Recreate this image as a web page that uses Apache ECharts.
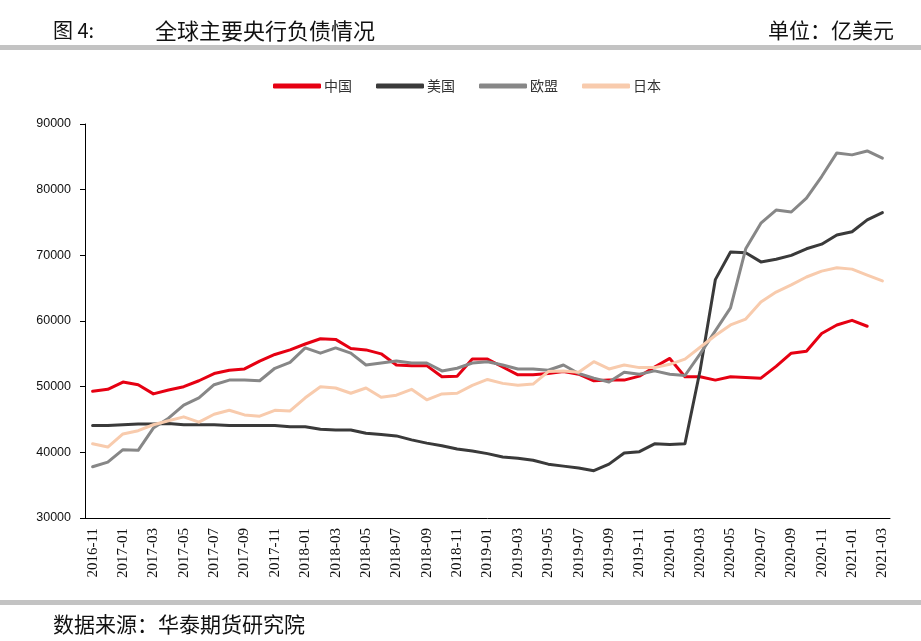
<!DOCTYPE html>
<html>
<head>
<meta charset="utf-8">
<title>全球主要央行负债情况</title>
<script src="https://cdn.jsdelivr.net/npm/echarts@6/dist/echarts.min.js"></script>
<style>
  html, body { margin: 0; padding: 0; background: #fff; }
  #chart { width: 921px; height: 641px; }
</style>
</head>
<body>
<div id="chart"></div>
<script>
// 月份 2016-11 ~ 2021-03
const months = [
  '2016-11', '2016-12',
  '2017-01', '2017-02', '2017-03', '2017-04', '2017-05', '2017-06',
  '2017-07', '2017-08', '2017-09', '2017-10', '2017-11', '2017-12',
  '2018-01', '2018-02', '2018-03', '2018-04', '2018-05', '2018-06',
  '2018-07', '2018-08', '2018-09', '2018-10', '2018-11', '2018-12',
  '2019-01', '2019-02', '2019-03', '2019-04', '2019-05', '2019-06',
  '2019-07', '2019-08', '2019-09', '2019-10', '2019-11', '2019-12',
  '2020-01', '2020-02', '2020-03', '2020-04', '2020-05', '2020-06',
  '2020-07', '2020-08', '2020-09', '2020-10', '2020-11', '2020-12',
  '2021-01', '2021-02', '2021-03',
]

const china = [
  49300, 49600, 50700, 50300, 48900, 49500, 50000, 50900, 52000, 52500,
  52700, 53900, 54900, 55600, 56500, 57300, 57200, 55800, 55600, 55000,
  53300, 53200, 53200, 51500, 51600, 54200, 54200, 53000, 51800, 51800,
  52000, 52300, 51900, 50900, 51000, 51000, 51600, 53000, 54300, 51500,
  51500, 51000, 51500, 51400, 51300, 53100, 55100, 55400, 58100, 59400,
  60100, 59200, null,
]

const usa = [
  44100, 44100, 44200, 44300, 44300, 44400, 44200, 44200, 44200, 44100,
  44100, 44100, 44100, 43900, 43900, 43500, 43400, 43400, 42900, 42700,
  42500, 41900, 41400, 41000, 40500, 40200, 39800, 39300, 39100, 38800,
  38200, 37900, 37600, 37200, 38200, 39900, 40100, 41300, 41200, 41300,
  52500, 66300, 70500, 70400, 69000, 69400, 70000, 71000, 71700, 73100,
  73600, 75400, 76500,
]

const eu = [
  37800, 38500, 40400, 40300, 43700, 45200, 47200, 48300, 50300, 51000,
  51000, 50900, 52800, 53700, 55900, 55100, 55900, 55100, 53300, 53600,
  53900, 53600, 53600, 52400, 52800, 53600, 53800, 53300, 52700, 52700,
  52500, 53300, 52000, 51300, 50700, 52200, 51900, 52400, 51900, 51700,
  55000, 58500, 62000, 71000, 74900, 76900, 76600, 78700, 82000, 85600,
  85300, 85900, 84800,
]

const japan = [
  41300, 40800, 42800, 43300, 44200, 44800, 45400, 44600, 45800, 46400,
  45700, 45500, 46400, 46300, 48300, 50000, 49800, 49000, 49800, 48400,
  48700, 49600, 48000, 48900, 49000, 50200, 51100, 50500, 50200, 50400,
  52300, 52400, 52200, 53800, 52700, 53300, 52900, 52900, 53400, 54200,
  56000, 57800, 59400, 60300, 62900, 64400, 65500, 66700, 67600, 68100,
  67900, 67000, 66100,
]

const seriesNames = ['中国', '美国', '欧盟', '日本']
const seriesColors = ['#e60012', '#3a3a3a', '#878787', '#f8cbad']
const seriesData = [china, usa, eu, japan]

const cjk = '"Noto Sans CJK SC", sans-serif'

const myChart = echarts.init(document.getElementById('chart'), null, { renderer: 'canvas' })

const option = {
  backgroundColor: '#fff',
  animation: false,
  title: [
    {
      text: '图 4:',
      left: 48,
      top: 15,
      textStyle: { fontFamily: cjk, fontSize: 20, fontWeight: 'normal', color: '#111' },
    },
    {
      text: '全球主要央行负债情况',
      left: 150,
      top: 15,
      textStyle: { fontFamily: cjk, fontSize: 22, fontWeight: 'normal', color: '#111' },
    },
    {
      text: '单位：亿美元',
      right: 22,
      top: 15,
      textStyle: { fontFamily: cjk, fontSize: 21, fontWeight: 'normal', color: '#111' },
    },
    {
      text: '数据来源：华泰期货研究院',
      left: 48,
      top: 609,
      textStyle: { fontFamily: cjk, fontSize: 21, fontWeight: 'normal', color: '#111' },
    },
  ],
  graphic: [
    { type: 'rect', shape: { x: 0, y: 45, width: 921, height: 5 }, style: { fill: '#c3c3c3' } },
    { type: 'rect', shape: { x: 0, y: 600, width: 921, height: 5 }, style: { fill: '#c3c3c3' } },
  ],
  legend: {
    data: seriesNames,
    icon: 'roundRect',
    left: 268,
    top: 74,
    itemWidth: 48,
    itemHeight: 5,
    itemGap: 24,
    textStyle: { fontFamily: cjk, fontSize: 14, color: '#333', padding: [0, 0, 0, -2] },
  },
  grid: {
    left: 85,
    right: 31,
    top: 124,
    bottom: 123,
  },
  xAxis: {
    type: 'category',
    data: months,
    boundaryGap: true,
    axisLine: { lineStyle: { color: '#000', width: 1 } },
    axisTick: { interval: 1, length: 5, lineStyle: { color: '#000' } },
    axisLabel: {
      interval: 1,
      rotate: 90,
      margin: 10,
      fontFamily: '"Liberation Serif", serif',
      fontSize: 15,
      color: '#111',
    },
    splitLine: { show: false },
  },
  yAxis: {
    type: 'value',
    min: 30000,
    max: 90000,
    interval: 10000,
    axisLine: { show: true, lineStyle: { color: '#000', width: 1 } },
    axisTick: { show: true, length: 5, lineStyle: { color: '#000' } },
    axisLabel: {
      margin: 14,
      fontFamily: '"Liberation Sans", Arial, sans-serif',
      fontSize: 12.5,
      color: '#111',
      formatter: (v) => String(v),
    },
    splitLine: { show: false },
  },
  series: seriesNames.map((name, i) => ({
    name: name,
    type: 'line',
    data: seriesData[i],
    showSymbol: false,
    symbol: 'none',
    color: seriesColors[i],
    lineStyle: { width: 3, color: seriesColors[i], cap: 'round', join: 'round' },
  })),
}

option && myChart.setOption(option)
</script>
</body>
</html>
